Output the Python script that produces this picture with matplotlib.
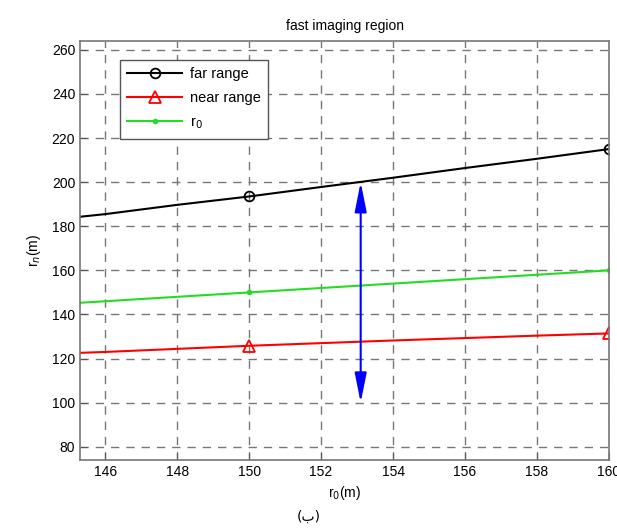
import numpy as np
import matplotlib.pyplot as plt

plt.rcParams['font.family'] = ['Liberation Sans', 'DejaVu Sans']

# --- data ---
r0 = [145.3, 146, 148, 150, 152, 154, 156, 158, 160]
far_range = [184.3, 185.5, 189.7, 193.5, 197.8, 202.0, 206.4, 210.6, 215.0]
near_range = [122.6, 123.0, 124.4, 125.8, 127.0, 128.2, 129.3, 130.4, 131.4]
r0_line = r0

marker_idx = [3, 8]  # markers at r0 = 150 and 160

arrow_x = 153.1
arrow_y = (100, 200)

# --- plotting ---
fig = plt.figure(figsize=(6.17, 5.29), dpi=100)
ax = fig.add_axes([0.1297, 0.1304, 0.8573, 0.7921])

ax.plot(r0, far_range, color='black', linewidth=1.5, marker='o', markersize=7,
        markerfacecolor='none', markeredgewidth=1.3, markevery=marker_idx, label='far range')
ax.plot(r0, near_range, color='red', linewidth=1.5, marker='^', markersize=8,
        markerfacecolor='none', markeredgewidth=1.3, markevery=marker_idx, label='near range')
ax.plot(r0, r0_line, color='#22dd22', linewidth=1.5, marker='.', markersize=6,
        markevery=marker_idx, label='r$_0$')

# double arrow spanning the imaging region
ax.annotate('', xy=(arrow_x, arrow_y[0]), xytext=(arrow_x, arrow_y[1]),
            arrowprops=dict(arrowstyle='<|-|>,head_length=1.0,head_width=0.2',
                            color='blue', lw=1.5, mutation_scale=18,
                            shrinkA=0, shrinkB=0))

ax.set_xlim(145.3, 160)
ax.set_ylim(74, 264)
ax.set_xticks(np.arange(146, 161, 2))
ax.set_yticks(np.arange(80, 261, 20))
ax.tick_params(direction='in', labelsize=10, length=5, color='#555555')
for s in ax.spines.values():
    s.set_color('#777777')
    s.set_linewidth(1.2)

ax.grid(True, linestyle=(0, (6, 5)), color='#777777', linewidth=1)

ax.set_title('fast imaging region', fontsize=10, pad=8)
ax.set_xlabel('r$_0$(m)', fontsize=10, labelpad=4)
ax.set_ylabel('r$_n$(m)', fontsize=10, labelpad=6)

leg = ax.legend(loc='upper left', bbox_to_anchor=(0.075, 0.955), borderaxespad=0,
                fontsize=10.5, fancybox=False, framealpha=1, edgecolor='#555555',
                handlelength=3.8, borderpad=0.5, labelspacing=0.7, handletextpad=0.5)
leg.get_frame().set_linewidth(1)

fig.text(0.5, 0.01, '(ب)', ha='center', va='bottom', fontsize=10,
         family=['DejaVu Sans'])

plt.savefig('out.png', dpi=100)
